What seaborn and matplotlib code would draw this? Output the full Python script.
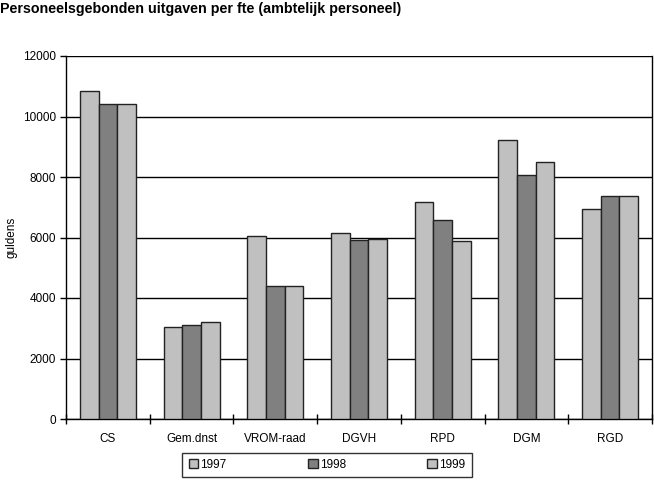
import numpy as np
import pandas as pd
import seaborn as sns
import matplotlib.pyplot as plt

afdelingen = ['CS', 'Gem.dnst', 'VROM-raad', 'DGVH', 'RPD', 'DGM', 'RGD']
jaren = ['1997', '1998', '1999']
uitgaven_1997 = [10850, 3050, 6060, 6160, 7170, 9210, 6930]
uitgaven_1998 = [10400, 3100, 4400, 5920, 6580, 8070, 7380]
uitgaven_1999 = [10400, 3210, 4400, 5950, 5900, 8510, 7380]

df = pd.DataFrame({
    'afdeling': afdelingen * 3,
    'jaar': np.repeat(jaren, len(afdelingen)),
    'gulden': uitgaven_1997 + uitgaven_1998 + uitgaven_1999,
})

sns.set_style('white')
plt.rcParams['font.family'] = ['Liberation Sans', 'DejaVu Sans']
plt.rcParams['text.color'] = 'black'
plt.rcParams['axes.labelcolor'] = 'black'
plt.rcParams['xtick.color'] = 'black'
plt.rcParams['ytick.color'] = 'black'

fig = plt.figure(figsize=(6.54, 4.82), dpi=100)
ax = fig.add_axes([66 / 654, 1 - 419 / 482, 586 / 654, 363 / 482])

kleuren = ['#c0c0c0', '#808080', '#c0c0c0']
sns.barplot(data=df, x='afdeling', y='gulden', hue='jaar', palette=kleuren,
            width=0.67, gap=0, edgecolor='#222222', linewidth=1.0, ax=ax,
            legend=True, zorder=3)

ax.set_ylim(0, 12000)
ax.set_xlim(-0.5, 6.5)
ax.set_yticks(range(0, 12001, 2000))
ax.set_yticklabels([str(v) for v in range(0, 12001, 2000)], fontsize=8.5)
ax.yaxis.grid(True, color='black', linewidth=1.0, zorder=0)
ax.set_axisbelow(True)
ax.set_xlabel('')
ax.set_ylabel('guldens', fontsize=8.5)
ax.tick_params(axis='x', which='major', length=0, labelsize=8.5, pad=10)
ax.set_xticks(np.arange(-0.5, 7, 1), minor=True)
ax.tick_params(axis='x', which='minor', bottom=True, direction='inout',
               length=7, width=1, color='black')
ax.tick_params(axis='y', which='major', left=True, direction='out',
               length=4, width=1, color='black', pad=3)
for side in ['left', 'bottom', 'right']:
    ax.spines[side].set_visible(True)
    ax.spines[side].set_color('black')
    ax.spines[side].set_linewidth(1.0)
ax.spines['top'].set_visible(False)

handles, labels = ax.get_legend_handles_labels()
ax.get_legend().remove()
leg = fig.legend(handles, labels, ncol=3, loc='center',
                 bbox_to_anchor=(327 / 654, 1 - 465 / 482), frameon=True,
                 fancybox=False, edgecolor='black', fontsize=8.5,
                 handlelength=0.8, handleheight=0.8, handletextpad=0.2,
                 columnspacing=6.9, borderpad=0.55, borderaxespad=0)
leg.get_frame().set_linewidth(1.0)

fig.text(0 / 654, 1 - 9 / 482, 'Personeelsgebonden uitgaven per fte (ambtelijk personeel)',
         fontsize=10.3, fontweight='bold', va='center', ha='left')

fig.savefig('out.png', dpi=100)
